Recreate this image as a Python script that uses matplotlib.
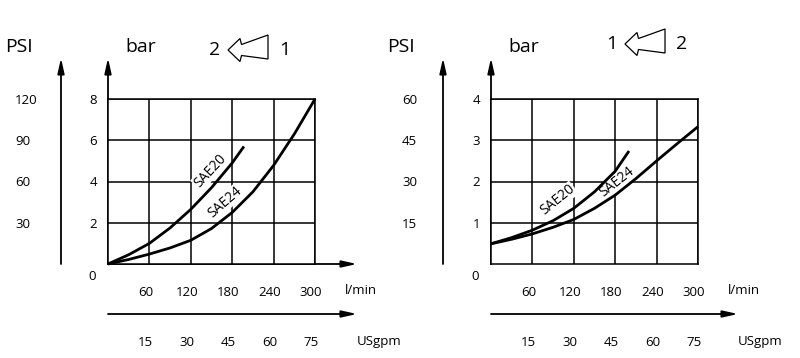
import numpy as np
import matplotlib
matplotlib.use("Agg")
import matplotlib.pyplot as plt
import matplotlib.transforms as mtransforms
from matplotlib.patches import Polygon

plt.rcParams['font.family'] = ['Open Sans', 'DejaVu Sans']

# ---------------- data ----------------
flow_ticks = [60, 120, 180, 240, 300]          # l/min
gpm_ticks = [15, 30, 45, 60, 75]               # USgpm
left_bar_ticks = [2, 4, 6, 8]
left_psi_ticks = [30, 60, 90, 120]
right_bar_ticks = [1, 2, 3, 4]
right_psi_ticks = [15, 30, 45, 60]

# left chart (direction 1 -> 2)
left_sae20_q = [0, 30, 60, 90, 120, 150, 180, 197]
left_sae20_bar = [0, 0.45, 1.0, 1.75, 2.65, 3.7, 4.9, 5.7]
left_sae24_q = [0, 30, 60, 90, 120, 150, 180, 210, 240, 270, 300]
left_sae24_bar = [0, 0.22, 0.48, 0.78, 1.15, 1.72, 2.5, 3.5, 4.78, 6.3, 8.0]

# right chart (direction 2 -> 1)
right_sae20_q = [0, 30, 60, 90, 120, 150, 180, 200]
right_sae20_bar = [0.49, 0.64, 0.82, 1.05, 1.35, 1.75, 2.25, 2.74]
right_sae24_q = [0, 30, 60, 90, 120, 150, 180, 210, 240, 270, 300]
right_sae24_bar = [0.49, 0.6, 0.73, 0.89, 1.08, 1.35, 1.67, 2.07, 2.5, 2.92, 3.33]

W, H = 800, 358
fig = plt.figure(figsize=(W / 100, H / 100), dpi=100)

# overlay in pixel coordinates for decorations
ov = fig.add_axes([0, 0, 1, 1])
ov.set_xlim(0, W)
ov.set_ylim(H, 0)
ov.axis('off')

GX0 = [108, 491]     # grid left (px)
GW = 207             # grid width (px)
GTOP, GBOT = 99, 264
TICK_FS = 9.5
TITLE_FS = 14
shift = mtransforms.ScaledTranslation(-4 / 100, 0, fig.dpi_scale_trans)


def arrow(x1, y1, x2, y2):
    ov.annotate('', xy=(x2, y2), xytext=(x1, y1),
                arrowprops=dict(arrowstyle='-|>,head_length=0.9,head_width=0.2',
                                lw=1.3, color='k', shrinkA=0, shrinkB=0))


def make_chart(x0, ymax, bar_ticks, psi_ticks, s20, s24, lab20, lab24,
               psi_x, psi_lbl_x, x_arrow):
    ax = fig.add_axes([x0 / W, (H - GBOT) / H, GW / W, (GBOT - GTOP) / H])
    ax.set_xlim(0, 300)
    ax.set_ylim(0, ymax)
    ax.set_xticks(flow_ticks)
    ax.set_yticks(bar_ticks)
    ax.grid(True, color='k', lw=1.1)
    for s in ax.spines.values():
        s.set_linewidth(1.1)
        s.set_color('k')
    ax.tick_params(length=0, labelsize=TICK_FS, colors='k')
    ax.tick_params(axis='y', pad=8)
    ax.tick_params(axis='x', pad=16)
    for lbl in ax.get_xticklabels():
        lbl.set_transform(lbl.get_transform() + shift)
    ax.text(-16 / GW, -12 / (GBOT - GTOP), '0', transform=ax.transAxes,
            ha='center', va='center', fontsize=TICK_FS)

    # curves
    ax.plot(s20[0], s20[1], color='k', lw=2.0, zorder=4, clip_on=False,
            solid_capstyle='butt')
    ax.plot(s24[0], s24[1], color='k', lw=2.0, zorder=4, clip_on=False,
            solid_capstyle='butt')
    for (txt, (qx, by, rot)) in (('SAE20', lab20), ('SAE24', lab24)):
        ax.text(qx, by, txt, rotation=rot, rotation_mode='anchor', ha='center',
                va='center', fontsize=10, zorder=3,
                bbox=dict(fc='white', ec='none', pad=0.5))

    # PSI secondary scale
    sec = ax.secondary_yaxis((psi_x - x0) / GW,
                             functions=(lambda b: b * 15, lambda p: p / 15))
    sec.set_yticks(psi_ticks)
    for s in sec.spines.values():
        s.set_visible(False)
    sec.tick_params(length=0, labelsize=TICK_FS, pad=(psi_x - psi_lbl_x) / 1.389)
    for lbl in sec.get_yticklabels():
        lbl.set_horizontalalignment('left')

    # USgpm secondary scale
    secx = ax.secondary_xaxis(-(314 - GBOT) / (GBOT - GTOP),
                              functions=(lambda q: q / 4, lambda g: g * 4))
    secx.set_xticks(gpm_ticks)
    for s in secx.spines.values():
        s.set_visible(False)
    secx.tick_params(length=0, labelsize=TICK_FS, pad=16)
    for lbl in secx.get_xticklabels():
        lbl.set_transform(lbl.get_transform() + shift)

    # axis lines with arrows
    arrow(x0, GBOT, x0, 58)
    arrow(psi_x, GBOT, psi_x, 58)
    arrow(x0, 314, x_arrow, 314)
    # unit labels
    ov.text(x0 + 237, 291, 'l/min', ha='left', va='center', fontsize=TICK_FS)
    ov.text(x_arrow, 341, 'USgpm', ha='left', va='center', fontsize=TICK_FS)
    ov.text(psi_x - 42, 47, 'PSI', ha='center', va='center', fontsize=TITLE_FS)
    ov.text(x0 + 33, 47, 'bar', ha='center', va='center', fontsize=TITLE_FS)
    return ax


def flow_arrow(tipx, tipy, left_num, right_num):
    pts = np.array([[0, 0], [12, -11.5], [13.5, -5.5], [40, -15], [40, 9],
                    [13.5, 5.5], [12, 11.5]])
    pts[:, 0] += tipx
    pts[:, 1] += tipy
    ov.add_patch(Polygon(pts, closed=True, fc='white', ec='k', lw=0.9))
    ov.text(tipx - 13, tipy, left_num, ha='center', va='center', fontsize=TITLE_FS)
    ov.text(tipx + 57, tipy, right_num, ha='center', va='center', fontsize=TITLE_FS)


make_chart(GX0[0], 8, left_bar_ticks, left_psi_ticks,
           (left_sae20_q, left_sae20_bar), (left_sae24_q, left_sae24_bar),
           (148, 4.5, 47), (169, 2.98, 41), 61, 15, 357)
arrow(GX0[0], GBOT, 357, GBOT)

make_chart(GX0[1], 4, right_bar_ticks, right_psi_ticks,
           (right_sae20_q, right_sae20_bar), (right_sae24_q, right_sae24_bar),
           (97, 1.55, 39), (182, 1.98, 38), 443, 402, 738)

flow_arrow(228, 50, '2', '1')
flow_arrow(625, 44, '1', '2')

fig.savefig('out.png', dpi=100)
